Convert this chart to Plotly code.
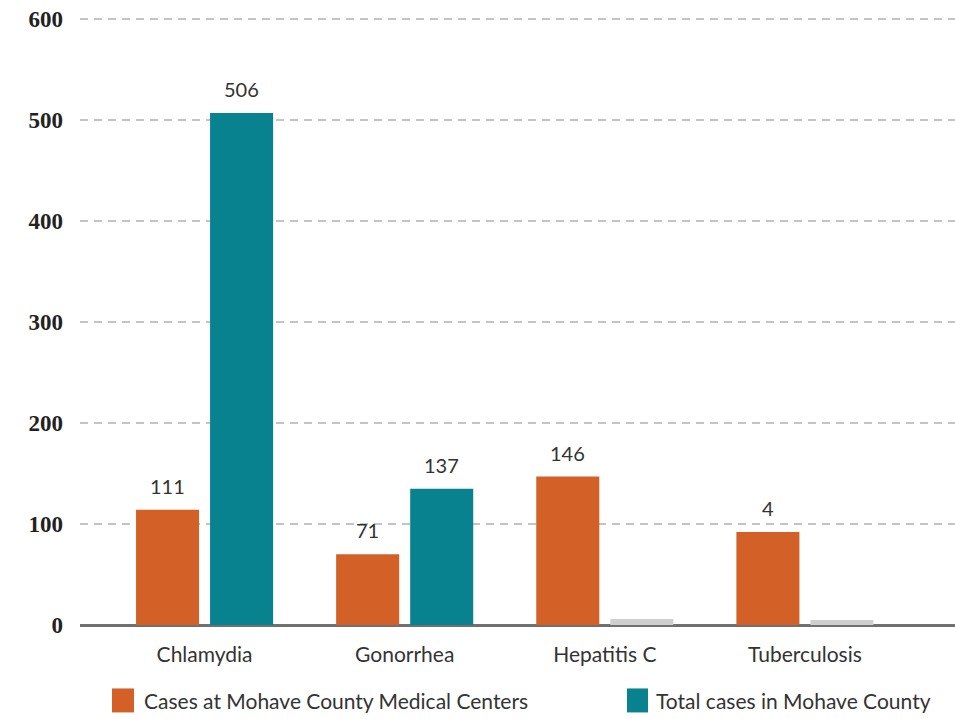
import plotly.graph_objects as go

categories = ["Chlamydia", "Gonorrhea", "Hepatitis C", "Tuberculosis"]
medical_centers = [114, 70, 147, 92]
medical_centers_labels = ["111", "71", "146", "4"]
county_total = [507, 135, 6, 5]
county_total_labels = ["506", "137", "", ""]
y_ticks = [0, 100, 200, 300, 400, 500, 600]
series_names = ["Cases at Mohave County Medical Centers", "Total cases in Mohave County"]

ORANGE = "#D36027"
TEAL = "#08828F"
GRAY = "#CFCFCF"
county_colors = [TEAL, TEAL, GRAY, GRAY]

W, H = 955, 719
ML, MR, MT, MB = 80, 0, 17, 93.5
pw, ph = W - ML - MR, H - MT - MB

xs = list(range(len(categories)))
bw = 0.315

fig = go.Figure()
fig.add_trace(go.Bar(x=xs, y=medical_centers, width=bw, offset=-0.3425,
                     marker=dict(color=ORANGE, line=dict(width=0)), name=series_names[0]))
fig.add_trace(go.Bar(x=xs, y=county_total, width=bw, offset=0.0275,
                     marker=dict(color=county_colors, line=dict(width=0)), name=series_names[1]))

annotations = []
for i, (v, t) in enumerate(zip(medical_centers, medical_centers_labels)):
    if t:
        annotations.append(dict(x=i - 0.185, y=v, text=t, showarrow=False, yanchor="bottom",
                                yshift=10, font=dict(family="Lato", size=20, color="#333333")))
for i, (v, t) in enumerate(zip(county_total, county_total_labels)):
    if t:
        annotations.append(dict(x=i + 0.185, y=v, text=t, showarrow=False, yanchor="bottom",
                                yshift=10, font=dict(family="Lato", size=20, color="#333333")))

# custom legend
def px_x(p):
    return (p - ML) / pw

def px_y(p):
    return (H - MB - p) / ph

shapes = []
legend_items = [(112, 134, 142, ORANGE, series_names[0]), (627, 648, 654, TEAL, series_names[1])]
for x0, x1, tx, col, name in legend_items:
    shapes.append(dict(type="rect", xref="paper", yref="paper", x0=px_x(x0), x1=px_x(x1),
                       y0=px_y(713), y1=px_y(689), fillcolor=col, line=dict(width=0)))
    annotations.append(dict(xref="paper", yref="paper", x=px_x(tx), y=px_y(701), text=name,
                            showarrow=False, xanchor="left", yanchor="middle",
                            font=dict(family="Lato", size=21, color="#333333")))

fig.update_layout(
    width=W, height=H,
    margin=dict(l=ML, r=MR, t=MT, b=MB),
    paper_bgcolor="white", plot_bgcolor="white",
    barmode="overlay",
    showlegend=False,
    annotations=annotations,
    shapes=shapes,
    xaxis=dict(
        range=[-0.6225, 3.75],
        tickmode="array", tickvals=xs, ticktext=categories,
        tickfont=dict(family="Lato", size=21, color="#333333"),
        showgrid=False, zeroline=False, showline=False, ticks="",
        ticklabelstandoff=15,
    ),
    yaxis=dict(
        range=[0, 602],
        tickmode="array", tickvals=y_ticks,
        tickfont=dict(family="Liberation Serif", size=23, color="#222222", weight="bold"),
        showgrid=True, gridcolor="#C4C4C8", gridwidth=2, griddash="8px,6px",
        zeroline=True, zerolinecolor="#707070", zerolinewidth=2.5,
        showline=False, ticks="", ticklabelstandoff=16,
    ),
)

fig.write_html("out.html")
